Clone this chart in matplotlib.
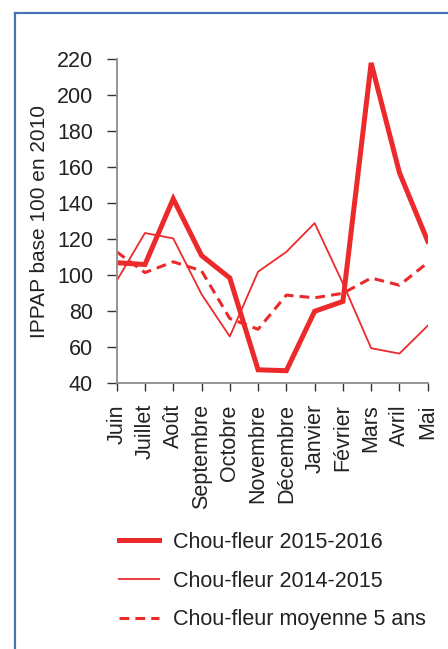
import matplotlib
matplotlib.use("Agg")
import matplotlib.pyplot as plt
from matplotlib.lines import Line2D

plt.rcParams['font.family'] = ['Liberation Sans', 'DejaVu Sans']

months = ["Juin", "Juillet", "Août", "Septembre", "Octobre", "Novembre",
          "Décembre", "Janvier", "Février", "Mars", "Avril", "Mai"]
cf_2015_2016 = [107, 106, 142.5, 111, 98.5, 47.5, 47, 80, 85.5, 218, 157, 119]
cf_2014_2015 = [97, 123.5, 120.5, 89.5, 66, 102, 113, 129, 95.5, 59.5, 56.5, 72]
cf_moy5 = [113, 101.5, 107.5, 102.5, 76, 70, 89, 87.5, 90, 98.5, 94.5, 107]
labels = ["Chou-fleur 2015-2016", "Chou-fleur 2014-2015", "Chou-fleur moyenne 5 ans"]
yticks = [40, 60, 80, 100, 120, 140, 160, 180, 200, 220]

red = '#EC2A2C'
txt = '#222222'
fs = 15.5

fig = plt.figure(figsize=(4.48, 6.49), dpi=100)
ax = fig.add_axes([0.2605, 0.4094, 0.6942, 0.4992])

x = range(len(months))
l1, = ax.plot(x, cf_2015_2016, color=red, lw=3.6, solid_joinstyle='miter')
l2, = ax.plot(x, cf_2014_2015, color=red, lw=1.3)
l3, = ax.plot(x, cf_moy5, color=red, lw=2.2, linestyle=(0, (3.2, 2.0)))

ax.set_xlim(0, len(months) - 1)
ax.set_ylim(40, 220)
ax.set_yticks(yticks)
ax.set_xticks(list(x))
ax.set_xticklabels(months, rotation=90, fontsize=fs, color=txt)
ax.tick_params(axis='y', labelsize=fs, labelcolor=txt, length=7, width=1,
               color='#333333', pad=10, direction='out')
ax.tick_params(axis='x', length=6, width=1, color='#333333', pad=9, direction='out')
for s in ['top', 'right']:
    ax.spines[s].set_visible(False)
for s in ['left', 'bottom']:
    ax.spines[s].set_color('#8c8c8c')
    ax.spines[s].set_linewidth(1.3)
ax.set_ylabel("IPPAP base 100 en 2010", fontsize=15, color=txt, labelpad=6)

leg = fig.legend([l1, l2, l3], labels, loc='upper left',
                 bbox_to_anchor=(119/448, 1 - 532/649),
                 bbox_transform=fig.transFigure, frameon=False,
                 fontsize=fs, handlelength=1.86, handletextpad=0.65,
                 labelspacing=0.82, borderaxespad=0, borderpad=0)
for t in leg.get_texts():
    t.set_color(txt)

# frame (left and top blue borders)
fig.add_artist(Line2D([15/448, 15/448], [0, 1 - 13/649], transform=fig.transFigure,
                      color='#4A73B5', lw=1.6))
fig.add_artist(Line2D([15/448, 1], [1 - 13/649, 1 - 13/649], transform=fig.transFigure,
                      color='#4A73B5', lw=1.6))

fig.savefig('out.png', dpi=100)
